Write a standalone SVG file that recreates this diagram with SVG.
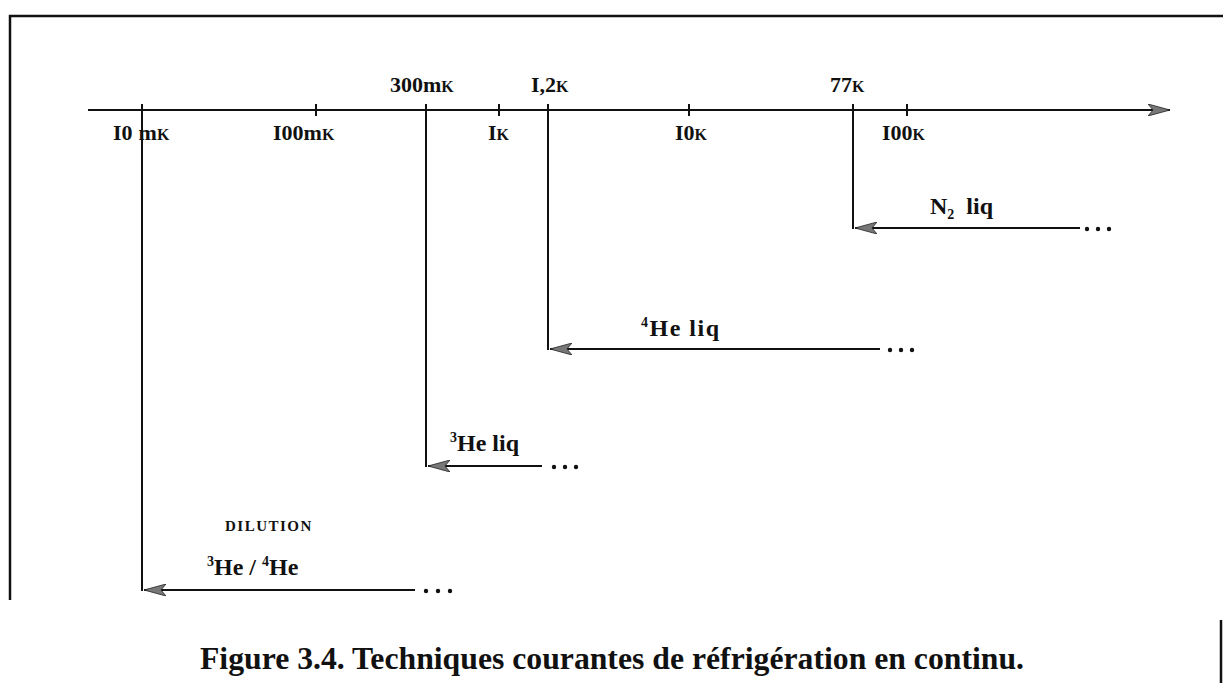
<svg xmlns="http://www.w3.org/2000/svg" width="1223" height="683" viewBox="0 0 1223 683">
<style>
.ln{stroke:#111;stroke-width:2;fill:none}
.fr{stroke:#111;stroke-width:2.5;fill:none}
.t{font-family:"Liberation Serif","Times New Roman",serif;font-weight:bold;font-size:22px;fill:#111}
.lab{font-family:"Liberation Serif","Times New Roman",serif;font-weight:bold;font-size:24px;fill:#111}
.sup{font-size:14px}
.sc{font-size:16px}
.cap{font-family:"Liberation Serif","Times New Roman",serif;font-weight:bold;font-size:31px;fill:#111}
.dot{fill:#111}
</style>
<defs>
<marker id="ah" viewBox="0 0 22 12" refX="22" refY="6" markerWidth="22" markerHeight="12" markerUnits="userSpaceOnUse" orient="auto">
<path d="M22,6 L0,0 L5,6 L0,12 Z" fill="#777" stroke="#222" stroke-width="0.8"/>
</marker>
</defs>
<g id="frame">
<path class="fr" d="M10,600 L10,16 L1223,16"/>
<path class="fr" d="M1221,620 L1221,683"/>
</g>
<g id="axis">
<line class="ln" x1="88" y1="110" x2="1170" y2="110" marker-end="url(#ah)"/>
<g class="ln">
<line x1="142" y1="104" x2="142" y2="116"/>
<line x1="316" y1="104" x2="316" y2="116"/>
<line x1="426" y1="104" x2="426" y2="116"/>
<line x1="499" y1="104" x2="499" y2="116"/>
<line x1="548" y1="104" x2="548" y2="116"/>
<line x1="689" y1="104" x2="689" y2="116"/>
<line x1="853" y1="104" x2="853" y2="116"/>
<line x1="907" y1="104" x2="907" y2="116"/>
</g>
<text class="t" x="113" y="140">I0<tspan dx="6">m</tspan><tspan class="sc">K</tspan></text>
<text class="t" x="273" y="140">I00m<tspan class="sc">K</tspan></text>
<text class="t" x="390" y="92">300m<tspan class="sc">K</tspan></text>
<text class="t" x="488" y="140">I<tspan class="sc">K</tspan></text>
<text class="t" x="531" y="92">I,2<tspan class="sc">K</tspan></text>
<text class="t" x="675" y="140">I0<tspan class="sc">K</tspan></text>
<text class="t" x="830" y="92">77<tspan class="sc">K</tspan></text>
<text class="t" x="882" y="140">I00<tspan class="sc">K</tspan></text>
</g>
<g id="connectors">
<line class="ln" x1="853" y1="110" x2="853" y2="229"/>
<line class="ln" x1="1080" y1="228" x2="855" y2="228" marker-end="url(#ah)"/>
<line class="ln" x1="548" y1="110" x2="548" y2="350"/>
<line class="ln" x1="880" y1="349" x2="550" y2="349" marker-end="url(#ah)"/>
<line class="ln" x1="426" y1="110" x2="426" y2="467"/>
<line class="ln" x1="542" y1="466" x2="428" y2="466" marker-end="url(#ah)"/>
<line class="ln" x1="142" y1="110" x2="142" y2="591"/>
<line class="ln" x1="415" y1="590" x2="144" y2="590" marker-end="url(#ah)"/>
</g>
<g id="n2">
<text class="lab" x="930" y="214">N<tspan class="sup" dy="5">2</tspan><tspan dy="-5" dx="12">liq</tspan></text>
<g class="dot"><circle cx="1087" cy="229" r="2.2"/><circle cx="1098" cy="229" r="2.2"/><circle cx="1109" cy="229" r="2.2"/></g>
</g>
<g id="he4">
<text class="lab" x="641" y="336" style="letter-spacing:1.5px"><tspan class="sup" dy="-9">4</tspan><tspan dy="9">He liq</tspan></text>
<g class="dot"><circle cx="890" cy="350" r="2.2"/><circle cx="901" cy="350" r="2.2"/><circle cx="912" cy="350" r="2.2"/></g>
</g>
<g id="he3">
<text class="lab" x="450" y="451"><tspan class="sup" dy="-9">3</tspan><tspan dy="9">He liq</tspan></text>
<g class="dot"><circle cx="554" cy="467" r="2.2"/><circle cx="565" cy="467" r="2.2"/><circle cx="576" cy="467" r="2.2"/></g>
</g>
<g id="dilution">
<text class="t" x="225" y="531" style="font-size:15px;letter-spacing:1.5px">DILUTION</text>
<text class="lab" x="207" y="575"><tspan class="sup" dy="-9">3</tspan><tspan dy="9">He / </tspan><tspan class="sup" dy="-9">4</tspan><tspan dy="9">He</tspan></text>
<g class="dot"><circle cx="426" cy="591" r="2.2"/><circle cx="438" cy="591" r="2.2"/><circle cx="450" cy="591" r="2.2"/></g>
</g>
<g id="caption">
<text class="cap" x="612" y="669" text-anchor="middle" textLength="824" lengthAdjust="spacingAndGlyphs">Figure 3.4. Techniques courantes de réfrigération en continu.</text>
</g>
</svg>
